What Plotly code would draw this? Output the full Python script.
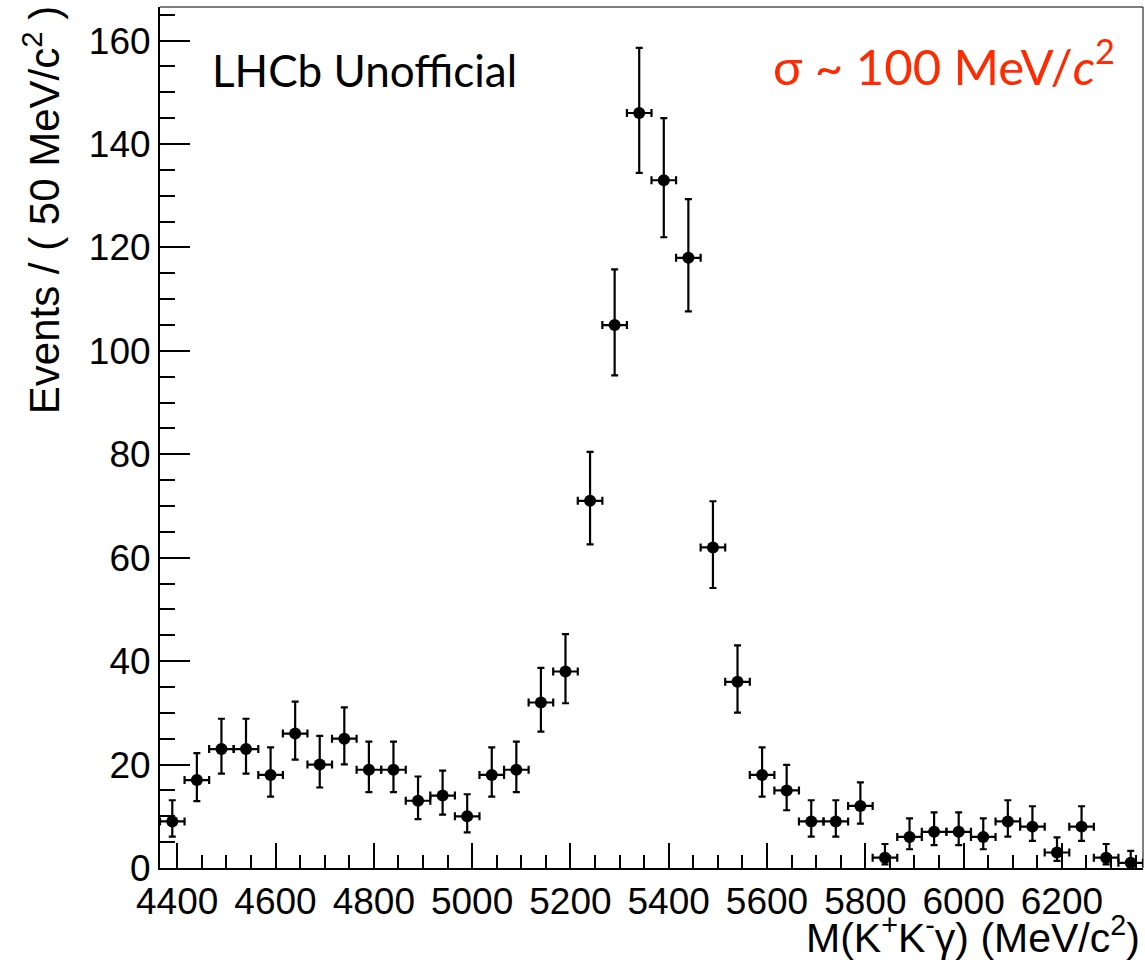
import plotly.graph_objects as go

# M(K+K-gamma) bin centres, 50 MeV/c^2 bins
mass = [4390, 4440, 4490, 4540, 4590, 4640, 4690, 4740, 4790, 4840,
        4890, 4940, 4990, 5040, 5090, 5140, 5190, 5240, 5290, 5340,
        5390, 5440, 5490, 5540, 5590, 5640, 5690, 5740, 5790, 5840,
        5890, 5940, 5990, 6040, 6090, 6140, 6190, 6240, 6290, 6340]

events = [9, 17, 23, 23, 18, 26, 20, 25, 19, 19,
          13, 14, 10, 18, 19, 32, 38, 71, 105, 146,
          133, 118, 62, 36, 18, 15, 9, 9, 12, 2,
          6, 7, 7, 6, 9, 8, 3, 8, 2, 1]

# asymmetric (poisson) errors
err_lo = [2.94, 4.08, 4.76, 4.76, 4.20, 5.06, 4.43, 4.96, 4.32, 4.32,
          3.55, 3.69, 3.10, 4.20, 4.32, 5.62, 6.14, 8.40, 9.75, 11.58,
          11.03, 10.36, 7.85, 5.97, 4.20, 3.83, 2.94, 2.94, 3.41, 1.29,
          2.37, 2.58, 2.58, 2.37, 2.94, 2.76, 1.63, 2.76, 1.29, 0.83]
err_hi = [4.10, 5.20, 5.86, 5.86, 5.32, 6.16, 5.54, 6.06, 5.43, 5.43,
          4.69, 4.83, 4.26, 5.32, 5.43, 6.71, 7.22, 9.46, 10.75, 12.58,
          12.03, 11.36, 8.92, 7.05, 5.32, 4.95, 4.10, 4.10, 4.55, 2.64,
          3.58, 3.76, 3.76, 3.58, 4.10, 3.94, 2.92, 3.94, 2.64, 2.30]

bin_half = 25

x_ticks = [4400, 4600, 4800, 5000, 5200, 5400, 5600, 5800, 6000, 6200]
y_ticks = [0, 20, 40, 60, 80, 100, 120, 140, 160]

fig = go.Figure()

fig.add_trace(go.Scatter(
    x=mass,
    y=events,
    mode="markers",
    marker=dict(color="black", size=12, symbol="circle"),
    error_y=dict(type="data", symmetric=False, array=err_hi, arrayminus=err_lo,
                 color="black", thickness=2.2, width=3.5),
    error_x=dict(type="constant", value=bin_half, color="black", thickness=2.2, width=4),
    hoverinfo="skip",
))

tick_font = dict(family="Liberation Sans, Arial, sans-serif", color="black")

fig.update_xaxes(
    range=[4365, 6365],
    tickvals=x_ticks,
    ticks="inside", ticklen=25, tickwidth=2, tickcolor="black",
    minor=dict(dtick=50, tick0=4400, ticks="inside", ticklen=13, tickwidth=2, tickcolor="black"),
    showline=True, linewidth=2, linecolor="black",
    showgrid=False, zeroline=False,
    tickfont=dict(size=37, **tick_font),
)
fig.update_yaxes(
    range=[0, 166.5],
    tickvals=y_ticks,
    ticks="inside", ticklen=30, tickwidth=2, tickcolor="black",
    minor=dict(dtick=5, tick0=0, ticks="inside", ticklen=15, tickwidth=2, tickcolor="black"),
    showline=True, linewidth=2, linecolor="black",
    showgrid=False, zeroline=False,
    tickfont=dict(size=37, **tick_font),
)

# thin top / right frame like a ROOT canvas
fig.add_shape(type="line", xref="paper", yref="paper", x0=0, x1=1, y0=1, y1=1,
              line=dict(color="black", width=1))
fig.add_shape(type="line", xref="paper", yref="paper", x0=1, x1=1, y0=0, y1=1,
              line=dict(color="black", width=1))

fig.add_annotation(
    text="Events / ( 50 MeV/c<sup>2</sup> )",
    xref="paper", yref="paper", x=-0.12, y=0.764,
    xanchor="center", yanchor="middle", textangle=-90, showarrow=False,
    font=dict(size=42, **tick_font),
)
fig.add_annotation(
    text="M(K<sup>+</sup>K<sup>-</sup>γ) (MeV/c<sup>2</sup>)",
    xref="paper", yref="paper", x=0.999, y=-0.078,
    xanchor="right", yanchor="middle", showarrow=False,
    font=dict(size=41, **tick_font),
)
fig.add_annotation(
    text="LHCb Unofficial",
    xref="paper", yref="paper", x=0.051, y=0.927,
    xanchor="left", yanchor="middle", showarrow=False,
    font=dict(size=44, family="Lato, sans-serif", color="black"),
)
fig.add_annotation(
    text="σ ~ 100 MeV/<i>c</i><sup>2</sup>",
    xref="paper", yref="paper", x=0.622, y=0.936,
    xanchor="left", yanchor="middle", showarrow=False,
    font=dict(size=49, family="Lato, sans-serif", color="#ff2a00"),
)

fig.update_layout(
    width=1145, height=964,
    margin=dict(l=160, r=2, t=7, b=96),
    paper_bgcolor="white", plot_bgcolor="white",
    showlegend=False,
)

# drop the browser's default body margin so the figure fills the window
fig.write_html("out.html", config={"displayModeBar": False},
               post_script="document.body.style.margin = '0';")
